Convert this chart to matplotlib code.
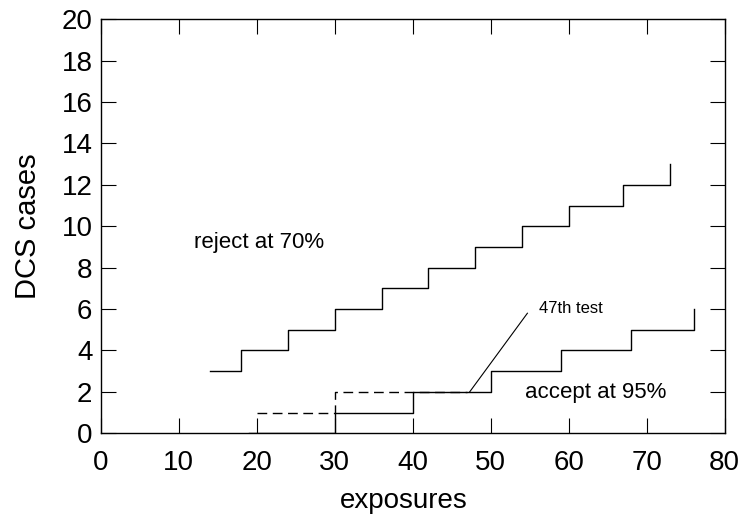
import matplotlib
matplotlib.use("Agg")
import matplotlib.pyplot as plt

plt.rcParams['font.family'] = ['Liberation Sans', 'DejaVu Sans']

# data
reject_x = [14, 18, 24, 30, 36, 42, 48, 54, 60, 67, 73]
reject_y = [3, 4, 5, 6, 7, 8, 9, 10, 11, 12, 13]
accept_x = [19, 30, 40, 50, 59, 68, 76]
accept_y = [0, 1, 2, 3, 4, 5, 6]
dashed_x = [20, 30, 47]
dashed_y = [1, 2, 2]
xticks = [0, 10, 20, 30, 40, 50, 60, 70, 80]
yticks = [0, 2, 4, 6, 8, 10, 12, 14, 16, 18, 20]

fig = plt.figure(figsize=(7.39, 5.16), dpi=100)
ax = fig.add_axes([0.1363, 0.1603, 0.8444, 0.8023])

lw = 1.0
ax.step(reject_x, reject_y, where='post', color='black', lw=lw)
ax.step(accept_x, accept_y, where='post', color='black', lw=lw)
ax.step(dashed_x, dashed_y, where='post', color='black', lw=lw,
        linestyle=(0, (7, 4)))

ax.plot([47.3, 54.7], [2, 5.8], color='black', lw=0.8)
ax.text(56.2, 6.05, '47th test', fontsize=12, va='center', ha='left')
ax.text(11.9, 9.2, 'reject at 70%', fontsize=16, va='center', ha='left')
ax.text(54.4, 1.95, 'accept at 95%', fontsize=16, va='center', ha='left')

ax.set_xlim(0, 80)
ax.set_ylim(0, 20)
ax.set_xticks(xticks)
ax.set_yticks(yticks)
ax.tick_params(direction='in', length=11, width=0.8, top=True, right=True,
               labelsize=20)
ax.tick_params(axis='x', pad=12)
ax.tick_params(axis='y', pad=6)
for s in ax.spines.values():
    s.set_linewidth(1.0)

ax.set_xlabel('exposures', fontsize=20, labelpad=9, x=0.4856)
ax.set_ylabel('DCS cases', fontsize=21, labelpad=14)

fig.savefig('out.png', dpi=100)
